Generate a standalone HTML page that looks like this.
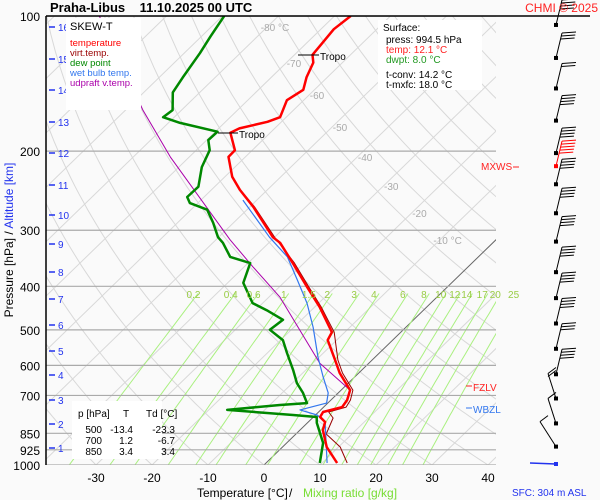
<!DOCTYPE html>
<html><head><meta charset="utf-8">
<style>
html,body{margin:0;padding:0;background:#fafafa;}
body{width:600px;height:500px;overflow:hidden;font-family:"Liberation Sans",sans-serif;}
svg{display:block}
text{font-family:"Liberation Sans",sans-serif;}
</style></head>
<body>
<svg id="chart" width="600" height="500" viewBox="0 0 600 500">
<defs><clipPath id="plotclip"><rect x="46" y="16" width="450" height="449"/></clipPath></defs>
<g id="grid" clip-path="url(#plotclip)"></g>
<g id="series" clip-path="url(#plotclip)"></g>
<g id="labels"></g>
</svg>
<script>
// ---- data ----
const tempP = [100,107,115,122,127,137,146,154,168,172,178,182,199,206,228,244,266,311,320,355,401,445,506,527,584,624,681,717,743,762,782,802,836,912,990];
const tempT = [-67.1,-67.7,-67.2,-66.8,-65.2,-63.7,-62.0,-63.0,-61.1,-62.5,-66.3,-67.1,-63.1,-63.0,-58.7,-54.9,-49.4,-40.3,-38.0,-32.0,-25.1,-19.1,-12.3,-11.6,-6.6,-3.4,1.6,2.9,3.3,0.8,1.2,3.0,4.1,7.9,12.7];
const dewP = [100,111,121,137,148,162,168,173,181,189,199,217,240,253,261,270,289,311,320,344,355,393,436,452,475,500,527,563,614,657,691,728,735,754,774,782,806,893,990];
const dewT = [-89.7,-88.4,-87.2,-85.8,-84.8,-81.6,-82.0,-77.9,-69.6,-69.7,-67.6,-65.9,-62.9,-63.0,-61.4,-57.1,-53.6,-50.1,-48.2,-44.3,-39.6,-37.2,-31.8,-28.0,-23.3,-23.8,-19.6,-16.5,-12.3,-9.2,-6.3,-3.7,-8.2,-16.7,-4.0,0.6,1.7,6.5,9.6];
const wetP = [257,311,344,387,436,493,575,637,691,728,754,774,802,990];
const wetT = [-52.5,-40.9,-34.1,-28.1,-22.1,-16.6,-10.2,-5.6,-1.8,-0.2,-3.7,0.3,3.0,10.9];
const virtP = [244,266,311,355,401,445,506,584,624,681,717,743,762,786,853,912,990];
const virtT = [-54.8,-49.2,-40.0,-31.7,-24.8,-18.8,-11.9,-6.1,-2.9,2.1,3.5,4.0,1.8,3.7,5.4,10.3,14.5];
const updP = [100,162,206,315,362,423,593,681];
const updT = [-112,-86.9,-73.4,-47.5,-38.4,-28.0,-8.8,1.6];
const mixW = [0.2,0.4,0.6,1,1.5,2,3,4,6,8,10,12,14,17,20,25];
const mixLabels = ["0.2","0.4","0.6","1","1.5","2","3","4","6","8","10","12","14","17","20","25"];
const pLevels = [100,200,300,400,500,600,700,850,925,1000];
const tTicks = [-30,-20,-10,0,10,20,30,40];
const kmTicks = [1,2,3,4,5,6,7,8,9,10,11,12,13,14,15,16];
const kmY = [448,424,400,375,351,325,299,272,244,215,185,153,122,90,59,27];
const isoLabels = [-80,-70,-60,-50,-40,-30,-20,-10];
const windP = [104.7,124,145,171,202,216,237,275,318,372,425,484,551,628,711,808,910];
const windBarbs = [4,3,2,4,4,5,4,4,4,4,4,4,3,4,2,1,1];
// ---- axes ----
const NS="http://www.w3.org/2000/svg";
function yOf(p){return 16+Math.log10(p/100)*449;}
function xOf(T,p){return 264+5.6*T+1.03*(465-yOf(p));}
function pOfY(y){return 100*Math.pow(10,(y-16)/449);}
function el(tag,attrs,parent){const e=document.createElementNS(NS,tag);for(const k in attrs)e.setAttribute(k,attrs[k]);parent.appendChild(e);return e;}
const grid=document.getElementById('grid'), series=document.getElementById('series'), labels=document.getElementById('labels');
function pts(arrP,arrT){return arrP.map((p,i)=>xOf(arrT[i],p).toFixed(1)+','+yOf(p).toFixed(1)).join(' ');}
// dry adiabats
for(let th=-40;th<=260;th+=10){
  const a=[];for(let p=100;p<=1000;p+=10){const T=(th+273.15)*Math.pow(p/1000,0.286)-273.15;a.push(xOf(T,p).toFixed(1)+','+yOf(p).toFixed(1));}
  const l=el('polyline',{points:a.join(' '),fill:'none',stroke:'#d8d8d8','stroke-width':1},grid);
  
  
}
// isotherms
for(let T=-140;T<=40;T+=10){
  const l=el('line',{x1:xOf(T,1000),y1:yOf(1000),x2:xOf(T,100),y2:yOf(100),stroke:T===0?'#666':'#d8d8d8','stroke-width':1},grid);
  
  
}
// mixing ratio lines
mixW.forEach((w,i)=>{
  const a=[];for(let p=1000;p>=410;p-=15){const e=w*p/(622+w);const L=Math.log(e/6.112);const Td=243.5*L/(17.67-L);a.push(xOf(Td,p).toFixed(1)+','+yOf(p).toFixed(1));}
  const l=el('polyline',{points:a.join(' '),fill:'none',stroke:'#aaf080','stroke-width':1},grid);
  
  
  const e=w*400/(622+w);const L=Math.log(e/6.112);const Td=243.5*L/(17.67-L);
  const t=el('text',{x:xOf(Td,400)-10,y:298,'font-size':10,fill:'#99cc44','text-anchor':'middle'},labels);
  t.textContent=mixLabels[i];
  
  
});
// pressure lines
pLevels.forEach(p=>{
  const l=el('line',{x1:46,x2:496,y1:yOf(p),y2:yOf(p),stroke:'#aaa','stroke-width':1.2},grid);
  
  
  const t=el('text',{x:40,y:yOf(p)+5,'font-size':12,'text-anchor':'end',fill:'#000'},labels);
  t.textContent=p;
  
  
});
// series
function line(P,T,color,w,name){const l=el('polyline',{points:pts(P,T),fill:'none',stroke:color,'stroke-width':w,'stroke-linejoin':'round'},series);}
line(updP,updT,'#aa00aa',1,'updraft-virtual-temp-line');
line(virtP,virtT,'#990000',1,'virtual-temp-line');
line(wetP,wetT,'#3377ee',1.2,'wet-bulb-line');
line(dewP,dewT,'#008800',2.5,'dew-point-line');
line(tempP,tempT,'#ff0000',2.5,'temperature-line');
// temperature ticks
tTicks.forEach(T=>{
  const t=el('text',{x:xOf(T,1000),y:482,'font-size':12,'text-anchor':'middle',fill:'#000'},labels);
  t.textContent=T;
  
  
});
// isotherm labels
isoLabels.forEach((T,i)=>{
  const y=[31,67,99,131,161,190,217,244][i];
  const t=el('text',{x:xOf(T,pOfY(y))+12,y:y,'font-size':10,'text-anchor':'middle',fill:'#aaa'},labels);
  t.textContent=(T===-80||T===-10)?T+' °C':T;
  
  
});
// km ticks
kmTicks.forEach((k,i)=>{
  const l=el('line',{x1:49,x2:55,y1:kmY[i],y2:kmY[i],stroke:'#2233ee','stroke-width':1.5},labels);
  
  
  const t=el('text',{x:58,y:kmY[i]+4,'font-size':10,fill:'#2233ee'},labels);
  t.textContent=k;
  
  
});
// wind barbs
windP.forEach((p,i)=>{
  const y=yOf(p);const x=556;const c=i===5?'#f00':'#000';
  const low=i>=14;
  const tx=low?(i===16?540:548):x+6, ty=y-25;
  const s=el('line',{x1:x,y1:y,x2:tx,y2:ty,stroke:c,'stroke-width':1},labels);
  
  
  const d=el('rect',{x:x-2,y:y-2,width:4,height:4,fill:c},labels);
  
  
  for(let k=0;k<windBarbs[i];k++){
    const b=el('line',{x1:tx-(low?0:k*0.7),y1:ty+k*3,x2:tx+(low?8:14)-(low?0:k*0.7),y2:ty+k*3-(low?6:1),stroke:c,'stroke-width':1},labels);
    
    
  }
});
</script>
<svg width="600" height="500" style="position:absolute;left:0;top:0">
<line x1="46" y1="16" x2="590" y2="16" stroke="#000" stroke-width="1.5"/>
<line x1="46" y1="16" x2="46" y2="465" stroke="#000" stroke-width="1.5"/>
<text x="50" y="12" font-size="13" font-weight="bold">Praha-Libus&#160;&#160;&#160;&#160;11.10.2025 00 UTC</text>
<text x="598" y="12" font-size="12" fill="#ff2222" text-anchor="end">CHMI © 2025</text>
<rect x="66" y="18" width="75" height="92" fill="#fff"/>
<text x="70" y="30" font-size="11">SKEW-T</text>
<text x="70" y="46" font-size="9.5" fill="#ff0000">temperature</text>
<text x="70" y="56" font-size="9.5" fill="#990000">virt.temp.</text>
<text x="70" y="66" font-size="9.5" fill="#008800">dew point</text>
<text x="70" y="76" font-size="9.5" fill="#3377ee">wet bulb temp.</text>
<text x="70" y="86" font-size="9.5" fill="#aa00aa">udpraft v.temp.</text>
<rect x="378" y="20" width="104" height="70" fill="#fff"/>
<text x="383" y="31" font-size="10">Surface:</text>
<text x="386" y="43" font-size="10">press: 994.5 hPa</text>
<text x="386" y="53" font-size="10" fill="#ff2222">temp: 12.1 °C</text>
<text x="386" y="63" font-size="10" fill="#229922">dwpt: 8.0 °C</text>
<text x="386" y="78" font-size="10">t-conv: 14.2 °C</text>
<text x="386" y="88" font-size="10">t-mxfc: 18.0 °C</text>
<line x1="298" y1="55" x2="319" y2="55" stroke="#000"/>
<text x="320" y="60" font-size="10">Tropo</text>
<line x1="218" y1="133" x2="238" y2="133" stroke="#000"/>
<text x="239" y="138" font-size="10">Tropo</text>
<text x="481" y="170" font-size="10" fill="#ff2222">MXWS</text>
<line x1="513" y1="167" x2="519" y2="167" stroke="#ff2222"/>
<line x1="466" y1="386" x2="472" y2="386" stroke="#ff2222"/>
<text x="473" y="391" font-size="10" fill="#ff2222">FZLV</text>
<line x1="466" y1="408" x2="472" y2="408" stroke="#3377ee"/>
<text x="473" y="413" font-size="10" fill="#3377ee">WBZL</text>
<rect x="72" y="401" width="90" height="58" fill="#fff"/>
<g font-size="10">
<text x="78" y="417">p [hPa]</text><text x="123" y="417">T</text><text x="146" y="417">Td [°C]</text>
<text x="102" y="433" text-anchor="end">500</text><text x="133" y="433" text-anchor="end">-13.4</text><text x="175" y="433" text-anchor="end">-23.3</text>
<text x="102" y="444" text-anchor="end">700</text><text x="133" y="444" text-anchor="end">1.2</text><text x="175" y="444" text-anchor="end">-6.7</text>
<text x="102" y="455" text-anchor="end">850</text><text x="133" y="455" text-anchor="end">3.4</text><text x="175" y="455" text-anchor="end">3.4</text>
</g>
<text x="197" y="497" font-size="12">Temperature [°C]</text>
<text x="289" y="497" font-size="12">/</text>
<text x="303" y="497" font-size="12" fill="#77dd33">Mixing ratio [g/kg]</text>
<text x="512" y="496" font-size="10" fill="#2233ee">SFC: 304 m ASL</text>
<line x1="530" y1="463" x2="556" y2="464" stroke="#2233ee" stroke-width="1.5"/>
<rect x="554" y="462" width="4" height="4" fill="#2233ee"/>
<text transform="translate(13,240) rotate(-90)" font-size="12" text-anchor="middle"><tspan>Pressure [hPa]  /  </tspan><tspan fill="#2233ee">Altitude [km]</tspan></text>
</svg>
</body></html>
